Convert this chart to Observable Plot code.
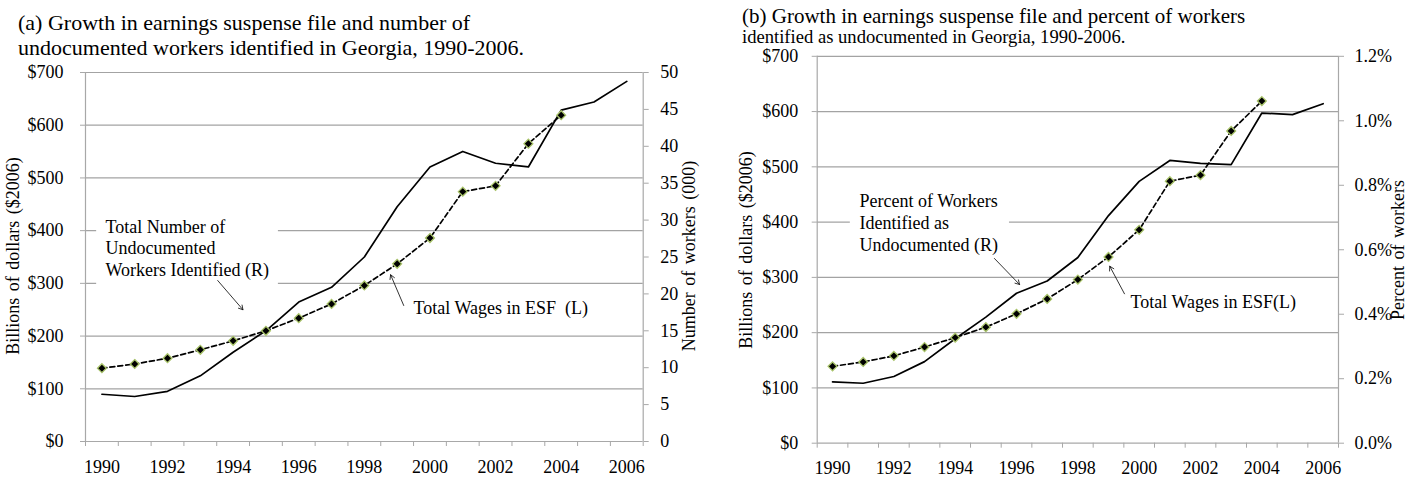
<!DOCTYPE html>
<html><head><meta charset="utf-8">
<script src="https://cdn.jsdelivr.net/npm/d3@7"></script>
<script src="https://cdn.jsdelivr.net/npm/@observablehq/plot@0.6"></script>
<style>
body{margin:0;background:#fff;}
#wrap{position:relative;width:1424px;height:478px;font-family:"Liberation Serif","Times New Roman",serif;color:#000;overflow:hidden;}
.t{position:absolute;white-space:nowrap;line-height:1;transform:translateY(-50%);}
.yl{position:absolute;white-space:nowrap;line-height:1;font-size:18px;word-spacing:2px;transform:translate(-50%,-50%) rotate(-90deg);}
#wrap svg{position:absolute;top:0;}
</style></head><body><div id="wrap"></div>
<script>
// ---- data ----
const years = [1990,1991,1992,1993,1994,1995,1996,1997,1998,1999,2000,2001,2002,2003,2004,2005,2006];
// Total wages in the earnings suspense file, billions of $2006 (1990-2004)
const esfWages = [139,147,158,174,191,210,234,261,296,337,386,474,485,565,619];
// Total number of undocumented workers identified, thousands
const workersThousands = [6.4,6.1,6.8,8.9,12.1,15.0,18.9,20.9,25.0,31.8,37.2,39.3,37.7,37.2,44.9,46.0,48.8];
// Percent of workers identified as undocumented
const percentWorkers = [0.190,0.186,0.207,0.253,0.324,0.391,0.465,0.503,0.576,0.706,0.812,0.877,0.868,0.864,1.024,1.019,1.053];
const leftTicks = [0,100,200,300,400,500,600,700];
const rightTicksA = [0,5,10,15,20,25,30,35,40,45,50];
const rightTicksB = [0,0.2,0.4,0.6,0.8,1.0,1.2];
const yearLabels = [1990,1992,1994,1996,1998,2000,2002,2004,2006];

const FONT = '"Liberation Serif","Times New Roman",serif';
const GRID = "#a3a3a3", AXIS = "#a8a8a8";
const wrap = document.getElementById("wrap");

function addText(cls, txt, left, top, size) {
  const d = document.createElement("div");
  d.className = cls; d.textContent = txt;
  d.style.left = left + "px"; d.style.top = top + "px";
  if (size) d.style.fontSize = size + "px";
  wrap.appendChild(d);
}

function panel(o) {
  const k = 700 / o.rightMax;
  const esf = esfWages.map((v, i) => ({year: years[i], v}));
  const right = o.rightVals.map((v, i) => ({year: years[i], v: v * k}));
  const bounds = d3.range(0, 18).map(i => 1989.5 + i);
  const a = o.annot;
  return Plot.plot({
    width: 712, height: 478,
    marginLeft: o.ml, marginRight: o.mr, marginTop: o.mt, marginBottom: o.mb,
    style: {fontFamily: FONT, fontSize: "18px", background: "transparent", color: "black", overflow: "visible"},
    x: {type: "linear", domain: [1989.5, 2006.5], label: null},
    y: {domain: [0, 700], label: null},
    marks: [
      Plot.gridY(leftTicks.slice(1), {stroke: GRID, strokeOpacity: 1, strokeWidth: 1.2}),
      Plot.rect([a.box], {x1: "x1", x2: "x2", y1: "y1", y2: "y2", fill: "white"}),
      Plot.ruleY([0], {stroke: AXIS, strokeWidth: 1.2}),
      Plot.ruleX([1989.5, 2006.5], {stroke: AXIS, strokeWidth: 1.2}),
      Plot.axisX(bounds, {tickSize: 5, stroke: AXIS, tickFormat: () => "", label: null}),
      Plot.axisX(yearLabels, {tickSize: 0, tickPadding: o.xPad, tickFormat: d => String(d), label: null}),
      Plot.axisY(leftTicks, {anchor: "left", tickSize: 5, stroke: AXIS, tickPadding: o.lPad, tickFormat: d => "$" + d, label: null}),
      Plot.axisY(o.rightTicks.map(t => t * k), {anchor: "right", tickSize: 5, stroke: AXIS, tickPadding: o.rPad, tickFormat: d => o.rightFmt(d / k), label: null}),
      Plot.line(right, {x: "year", y: "v", stroke: "black", strokeWidth: 1.7}),
      Plot.line(esf, {x: "year", y: "v", stroke: "black", strokeWidth: 1.7, strokeDasharray: "5,3"}),
      Plot.dot(esf, {x: "year", y: "v", symbol: "diamond2", r: 4, fill: "black", stroke: "#a9c46a", strokeWidth: 1.3}),
      Plot.text([a.label], {x: "x", y: "y", text: "text", textAnchor: "start", lineAnchor: "middle", lineHeight: 1.2, fontSize: 18, fill: "black"}),
      Plot.text([a.label2], {x: "x", y: "y", text: "text", textAnchor: "start", lineAnchor: "middle", fontSize: 18, fill: "black"}),
      Plot.arrow(a.arrows, {x1: "x1", y1: "y1", x2: "x2", y2: "y2", stroke: "black", strokeWidth: 0.8, headLength: 9})
    ]
  });
}

const svgA = panel({
  ml: 85, mr: 69.3, mt: 72, mb: 37, xPad: 19, lPad: 17, rPad: 12,
  rightVals: workersThousands, rightMax: 50, rightTicks: rightTicksA, rightFmt: v => String(Math.round(v)),
  annot: {
    box: {x1: 1989.84, x2: 1995.38, y1: 286, y2: 448},
    label: {x: 1990.11, y: 368.6, text: "Total Number of\nUndocumented\nWorkers Identified (R)"},
    label2: {x: 1999.5, y: 252.3, text: "Total Wages in ESF\u00a0 (L)"},
    arrows: [
      {x1: 1993.53, y1: 305.4, x2: 1994.30, y2: 249.9},
      {x1: 1999.20, y1: 258.0, x2: 1998.80, y2: 316.3}
    ]
  }
});
svgA.style.left = "0px";

const svgB = panel({
  ml: 104.7, mr: 86, mt: 55.8, mb: 35.3, xPad: 18, lPad: 14, rPad: 11,
  rightVals: percentWorkers, rightMax: 1.2, rightTicks: rightTicksB, rightFmt: v => v.toFixed(1) + "%",
  annot: {
    box: {x1: 1990.58, x2: 1995.77, y1: 327, y2: 466},
    label: {x: 1990.88, y: 399.9, text: "Percent of Workers\nIdentified as\nUndocumented (R)"},
    label2: {x: 1999.72, y: 255.5, text: "Total Wages in ESF(L)"},
    arrows: [
      {x1: 1995.28, y1: 334.2, x2: 1996.10, y2: 287.1},
      {x1: 1999.52, y1: 270.3, x2: 1999.04, y2: 320.2}
    ]
  }
});
svgB.style.left = "712px";

addText("t", "(a) Growth in earnings suspense file and number of", 18, 23, 22);
addText("t", "undocumented workers identified in Georgia, 1990-2006.", 18, 47.5, 22);
addText("t", "(b) Growth in earnings suspense file and percent of workers", 742, 16, 21);
addText("t", "identified as undocumented in Georgia, 1990-2006.", 742, 37, 18.6);
addText("yl", "Billions of dollars ($2006)", 13, 256);
addText("yl", "Number of workers (000)", 689, 256);
addText("yl", "Billions of dollars ($2006)", 746, 250);
addText("yl", "Percent of workers", 1398, 250);
wrap.appendChild(svgA);
wrap.appendChild(svgB);
</script></body></html>
